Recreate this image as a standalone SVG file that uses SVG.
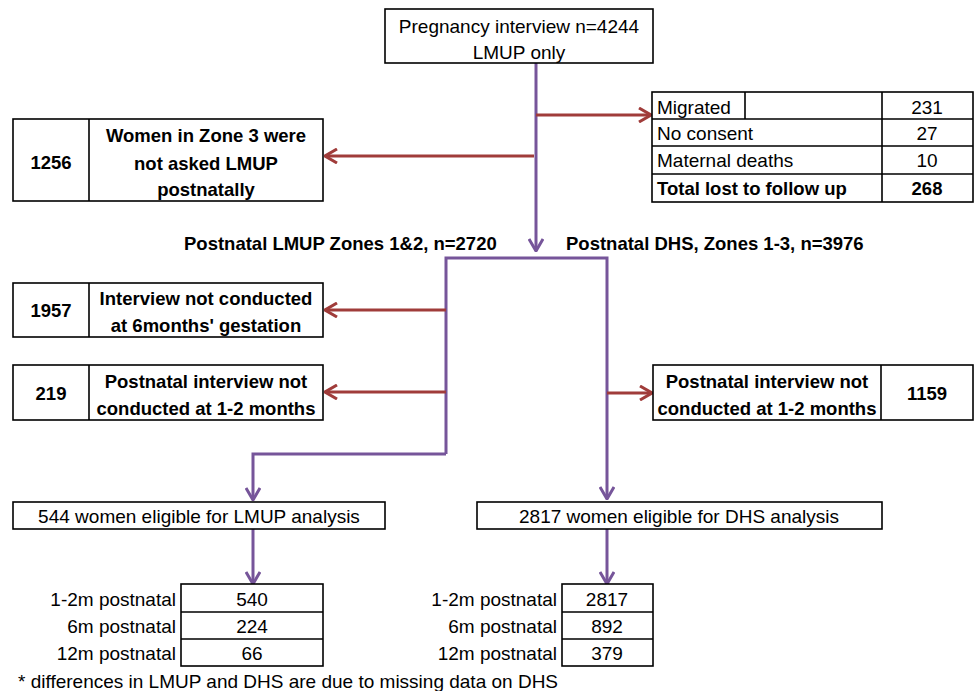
<svg xmlns="http://www.w3.org/2000/svg" width="975" height="691" viewBox="0 0 975 691">
<style>
text{font-family:"Liberation Sans",Arial,sans-serif;font-size:19px;fill:#000}
.b{font-weight:bold;font-size:18.5px}
.box{fill:#fff;stroke:#000;stroke-width:1.6}
.p{fill:none;stroke:#76559A;stroke-width:3}
.r{fill:none;stroke:#A03C3A;stroke-width:3}
.m{text-anchor:middle}
.e{text-anchor:end}
</style>
<defs>
<marker id="ap" viewBox="0 0 14 16" refX="13" refY="8" markerWidth="14" markerHeight="16" markerUnits="userSpaceOnUse" orient="auto">
<polyline points="1,1 13,8 1,15" fill="none" stroke="#76559A" stroke-width="3"/>
</marker>
<marker id="ar" viewBox="0 0 14 16" refX="13" refY="8" markerWidth="14" markerHeight="16" markerUnits="userSpaceOnUse" orient="auto">
<polyline points="1,1 13,8 1,15" fill="none" stroke="#A03C3A" stroke-width="3"/>
</marker>
</defs>
<g id="connectors">
<path class="p" d="M536,63 V251" marker-end="url(#ap)"/>
<path class="r" d="M536,115 H651" marker-end="url(#ar)"/>
<path class="r" d="M534,156 H325" marker-end="url(#ar)"/>
<path class="p" d="M446,454 V258 H607 V499" marker-end="url(#ap)"/>
<path class="p" d="M446,454 H253 V500" marker-end="url(#ap)"/>
<path class="r" d="M446,310 H325" marker-end="url(#ar)"/>
<path class="r" d="M446,392 H325" marker-end="url(#ar)"/>
<path class="r" d="M607,393 H652" marker-end="url(#ar)"/>
<path class="p" d="M253,529 V584" marker-end="url(#ap)"/>
<path class="p" d="M607,529 V584" marker-end="url(#ap)"/>
</g>
<g id="pregnancy">
<rect class="box" x="385" y="9" width="268" height="54"/>
<text class="m" x="519" y="33">Pregnancy interview n=4244</text>
<text class="m" x="519" y="59">LMUP only</text>
</g>
<g id="lost">
<rect class="box" x="652" y="92" width="321" height="110"/>
<path d="M652,119 H973 M652,146 H973 M652,174 H973 M882,92 V202 M745,92 V119" stroke="#000" stroke-width="1.6" fill="none"/>
<text x="657" y="114">Migrated</text>
<text class="m" x="927" y="114">231</text>
<text x="657" y="140">No consent</text>
<text class="m" x="927" y="140">27</text>
<text x="657" y="167">Maternal deaths</text>
<text class="m" x="927" y="167">10</text>
<text class="b" x="657" y="195">Total lost to follow up</text>
<text class="b m" x="927" y="195">268</text>
</g>
<g id="zone3">
<rect class="box" x="13" y="119" width="310" height="82"/>
<path d="M89,119 V201" stroke="#000" stroke-width="1.6"/>
<text class="b m" x="51" y="169">1256</text>
<text class="b m" x="206" y="142">Women in Zone 3 were</text>
<text class="b m" x="206" y="170">not asked LMUP</text>
<text class="b m" x="206" y="196">postnatally</text>
</g>
<g id="labels">
<text class="b" x="184" y="250">Postnatal LMUP Zones 1&amp;2, n=2720</text>
<text class="b" x="566" y="250">Postnatal DHS, Zones 1-3, n=3976</text>
</g>
<g id="n1957">
<rect class="box" x="13" y="283" width="310" height="54"/>
<path d="M89,283 V337" stroke="#000" stroke-width="1.6"/>
<text class="b m" x="51" y="317">1957</text>
<text class="b m" x="206" y="305">Interview not conducted</text>
<text class="b m" x="206" y="332">at 6months' gestation</text>
</g>
<g id="n219">
<rect class="box" x="13" y="365" width="310" height="55"/>
<path d="M89,365 V420" stroke="#000" stroke-width="1.6"/>
<text class="b m" x="51" y="400">219</text>
<text class="b m" x="206" y="388">Postnatal interview not</text>
<text class="b m" x="206" y="415">conducted at 1-2 months</text>
</g>
<g id="n1159">
<rect class="box" x="653" y="365" width="320" height="55"/>
<path d="M881,365 V420" stroke="#000" stroke-width="1.6"/>
<text class="b m" x="767" y="388">Postnatal interview not</text>
<text class="b m" x="767" y="415">conducted at 1-2 months</text>
<text class="b m" x="927" y="400">1159</text>
</g>
<g id="lmup544">
<rect class="box" x="13" y="502" width="372" height="27"/>
<text class="m" x="199" y="523">544 women eligible for LMUP analysis</text>
</g>
<g id="dhs2817">
<rect class="box" x="477" y="502" width="405" height="27"/>
<text class="m" x="679" y="523">2817 women eligible for DHS analysis</text>
</g>
<g id="lmupTable">
<rect class="box" x="181" y="584" width="142" height="82"/>
<path d="M181,612 H323 M181,639 H323" stroke="#000" stroke-width="1.6"/>
<text class="e" x="176" y="606">1-2m postnatal</text>
<text class="e" x="176" y="633">6m postnatal</text>
<text class="e" x="176" y="660">12m postnatal</text>
<text class="m" x="252" y="606">540</text>
<text class="m" x="252" y="633">224</text>
<text class="m" x="252" y="660">66</text>
</g>
<g id="dhsTable">
<rect class="box" x="562" y="584" width="91" height="82"/>
<path d="M562,612 H653 M562,639 H653" stroke="#000" stroke-width="1.6"/>
<text class="e" x="557" y="606">1-2m postnatal</text>
<text class="e" x="557" y="633">6m postnatal</text>
<text class="e" x="557" y="660">12m postnatal</text>
<text class="m" x="607" y="606">2817</text>
<text class="m" x="607" y="633">892</text>
<text class="m" x="607" y="660">379</text>
</g>
<g id="footnote">
<text x="18" y="688">* differences in LMUP and DHS are due to missing data on DHS</text>
</g>
</svg>
